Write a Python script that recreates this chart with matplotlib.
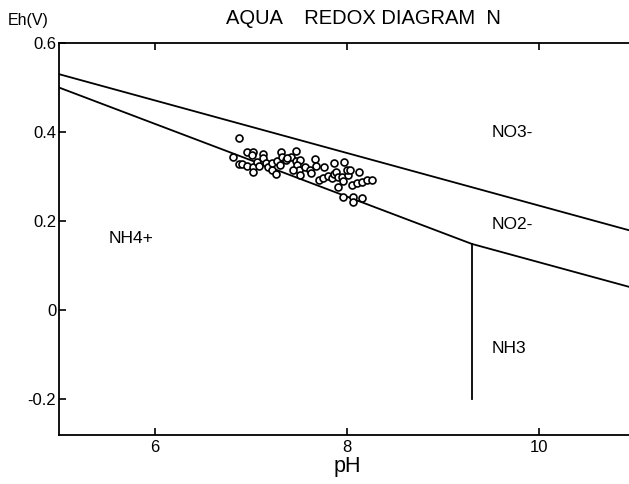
import numpy as np
import matplotlib
matplotlib.use('Agg')
import matplotlib.pyplot as plt

plt.rcParams['font.family'] = ['Liberation Sans', 'DejaVu Sans']

# stability field boundaries (pH, Eh)
no3_no2_ph = [5.0, 11.0]
no3_no2_eh = [0.53, 0.176]
nh_lower_ph = [5.0, 9.3, 11.0]
nh_lower_eh = [0.50, 0.149, 0.049]
nh4_nh3_ph = [9.3, 9.3]
nh4_nh3_eh = [0.149, -0.20]

# sample points
sample_ph = [6.87, 6.81, 6.87, 6.91, 6.96, 7.02, 7.01, 6.96, 7.02, 7.02,
             7.06, 7.08, 7.12, 7.13, 7.16, 7.18, 7.22, 7.26, 7.22, 7.27,
             7.31, 7.32, 7.36, 7.30, 7.42, 7.47, 7.47, 7.51, 7.48, 7.50,
             7.51, 7.56, 7.61, 7.67, 7.68, 7.62, 7.76, 7.71, 7.75, 7.80,
             7.84, 7.86, 7.86, 7.89, 7.91, 7.95, 7.91, 7.96, 7.97, 8.01,
             8.00, 8.03, 8.05, 8.10, 8.12, 8.16, 8.21, 8.26, 7.96, 8.06,
             8.06, 8.16, 7.44, 7.38]
sample_eh = [0.387, 0.345, 0.328, 0.328, 0.356, 0.356, 0.348, 0.324, 0.321, 0.311,
             0.333, 0.324, 0.351, 0.341, 0.331, 0.322, 0.315, 0.307, 0.331, 0.335,
             0.356, 0.344, 0.337, 0.326, 0.345, 0.358, 0.336, 0.337, 0.326, 0.315,
             0.303, 0.322, 0.316, 0.339, 0.324, 0.309, 0.321, 0.292, 0.296, 0.301,
             0.298, 0.330, 0.307, 0.311, 0.299, 0.299, 0.277, 0.290, 0.333, 0.303,
             0.316, 0.314, 0.281, 0.285, 0.311, 0.289, 0.292, 0.292, 0.255, 0.255,
             0.242, 0.252, 0.315, 0.341]

regions = ['NO3-', 'NO2-', 'NH4+', 'NH3']
region_ph = [9.51, 9.51, 5.52, 9.51]
region_eh = [0.40, 0.193, 0.160, -0.085]

fig = plt.figure(figsize=(6.29, 4.84), dpi=100)
ax = fig.add_axes([0.0938, 0.1012, 0.9157, 0.81])

ax.plot(no3_no2_ph, no3_no2_eh, color='black', lw=1.3)
ax.plot(nh_lower_ph, nh_lower_eh, color='black', lw=1.3)
ax.plot(nh4_nh3_ph, nh4_nh3_eh, color='black', lw=1.3)
ax.plot(sample_ph, sample_eh, 'o', mfc='white', mec='black', ms=5, mew=1.2)

for name, x, y in zip(regions, region_ph, region_eh):
    ax.text(x, y, name, fontsize=12.5, ha='left', va='center')

ax.set_xlim(5, 11)
ax.set_ylim(-0.28, 0.6)
ax.set_xticks([6, 8, 10])
ax.set_yticks([-0.2, 0, 0.2, 0.4, 0.6])
ax.set_yticklabels(['-0.2', '0', '0.2', '0.4', '0.6'])
ax.tick_params(direction='in', length=5, width=1.2, labelsize=12, top=True)
ax.tick_params(axis='y', pad=2)
ax.spines['right'].set_visible(False)
for s in ['left', 'bottom', 'top']:
    ax.spines[s].set_linewidth(1.3)

ax.set_xlabel('pH', fontsize=15.5, labelpad=1)
fig.text(0.012, 0.958, 'Eh(V)', fontsize=11.5, ha='left', va='center')
fig.text(0.578, 0.962, 'AQUA    REDOX DIAGRAM  N', fontsize=14.5, ha='center', va='center')

fig.savefig('out.png', dpi=100)
